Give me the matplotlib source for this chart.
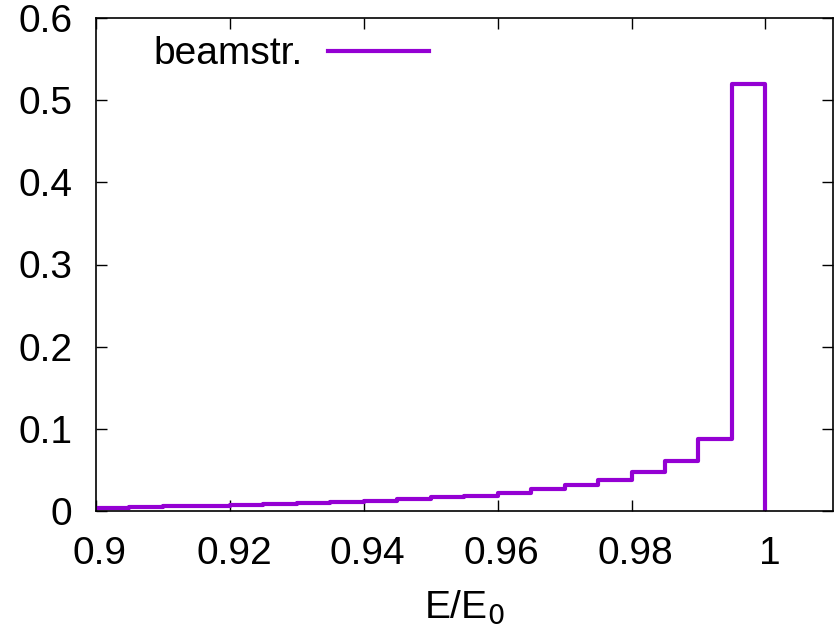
import numpy as np
import matplotlib
matplotlib.use('Agg')
import matplotlib.pyplot as plt
import matplotlib.transforms as mtransforms

plt.rcParams['font.family'] = ['Liberation Sans', 'DejaVu Sans']

# bin edges E/E0 (width 0.005) and contents
edges = np.round(np.arange(0.9, 1.0001, 0.005), 3)
counts = [0.0041, 0.0049, 0.0057, 0.0065, 0.0073, 0.0081, 0.0094, 0.011,
          0.012, 0.015, 0.0167, 0.0186, 0.0223, 0.0271, 0.032, 0.0377,
          0.0474, 0.0605, 0.0872, 0.52]

fig = plt.figure(figsize=(8.37, 6.29), dpi=100)
ax = fig.add_axes([96/837, 1-511/629, 737/837, 493/629])

yy = counts + [0.0]
ax.step(edges, yy, where='post', color='#9400D3', lw=3, label='beamstr.')

ax.set_xlim(0.9, 1.0101)
ax.set_ylim(0, 0.6)
ax.set_xticks([0.9, 0.92, 0.94, 0.96, 0.98, 1.0])
ax.set_xticklabels(['0.9', '0.92', '0.94', '0.96', '0.98', '1'])
ax.set_yticks([0, 0.1, 0.2, 0.3, 0.4, 0.5, 0.6])
ax.set_yticklabels(['0', '0.1', '0.2', '0.3', '0.4', '0.5', '0.6'])
ax.tick_params(direction='in', length=8, width=1, top=True, right=True,
               labelsize=28)
ax.tick_params(axis='y', pad=17)
ax.tick_params(axis='x', pad=18)
for s in ax.spines.values():
    s.set_linewidth(1.2)

# gnuplot puts the x labels a little right of the tick
shift = mtransforms.ScaledTranslation(4/100, 0, fig.dpi_scale_trans)
for lab in ax.get_xticklabels():
    lab.set_transform(lab.get_transform() + shift)

ax.set_xlabel('E/E$_0$', fontsize=28, labelpad=12)

ax.legend(loc='upper left', bbox_to_anchor=(0.047, 1.01), frameon=False,
          markerfirst=False, fontsize=28, handlelength=2.6, handletextpad=0.64,
          borderaxespad=0.2)

fig.savefig('out.png', dpi=100)
